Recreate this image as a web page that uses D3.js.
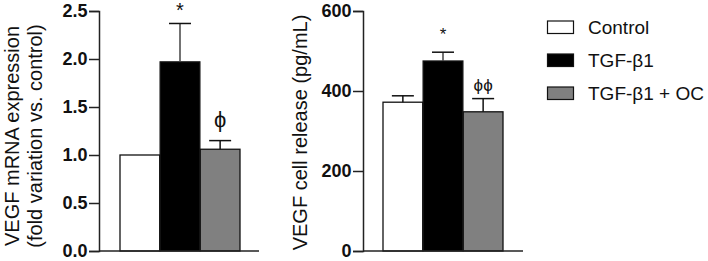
<!DOCTYPE html>
<html><head><meta charset="utf-8">
<script src="https://cdn.jsdelivr.net/npm/d3@7"></script>
<style>body{margin:0;background:#fff}svg{display:block}text{font-family:Arial,"Liberation Sans",sans-serif}</style>
</head><body><svg id="c" width="708" height="261"></svg>
<script>
const groups = ["Control", "TGF-β1", "TGF-β1 + OC"];
const colors = ["#ffffff", "#000000", "#808080"];
const mrnaValues = [1.0, 1.97, 1.06];
const mrnaErrors = [0, 0.40, 0.09];
const mrnaMarks = ["", "*", "ϕ"];
const mrnaTicks = [0, 0.5, 1.0, 1.5, 2.0, 2.5];
const releaseValues = [372, 475, 348];
const releaseErrors = [16, 22, 33];
const releaseMarks = ["", "*", "ϕϕ"];
const releaseTicks = [0, 200, 400, 600];

const svg = d3.select("#c");

function panel(o) {
  const g = svg.append("g");
  const y = d3.scaleLinear().domain(o.domain).range([251, 11]);
  const x = d3.scaleBand().domain(groups).range([o.x0, o.x1]).paddingInner(0.01).paddingOuter(0);
  const ax = g.append("g").attr("transform", `translate(${o.axisX},0)`)
    .call(d3.axisLeft(y).tickValues(o.ticks).tickFormat(o.fmt).tickSize(10).tickPadding(1.5));
  ax.select(".domain").attr("stroke", "#222").attr("stroke-width", 1.5);
  ax.selectAll(".tick line").attr("stroke", "#222").attr("stroke-width", 1.5);
  ax.selectAll(".tick text").attr("font-size", 18).attr("font-weight", "bold").attr("fill", "#111")
    .attr("font-family", "Arial, 'Liberation Sans', sans-serif");
  g.selectAll("rect.bar").data(groups).enter().append("rect")
    .attr("x", d => x(d)).attr("width", x.bandwidth())
    .attr("y", (d, i) => y(o.values[i])).attr("height", (d, i) => y(0) - y(o.values[i]))
    .attr("fill", (d, i) => colors[i]).attr("stroke", "#111").attr("stroke-width", 1.3);
  groups.forEach((d, i) => {
    if (!o.errors[i]) return;
    const cx = x(d) + x.bandwidth() / 2;
    const top = y(o.values[i] + o.errors[i]);
    g.append("line").attr("x1", cx).attr("x2", cx).attr("y1", y(o.values[i])).attr("y2", top)
      .attr("stroke", i === 1 ? "#444" : "#111").attr("stroke-width", 1.5);
    g.append("line").attr("x1", cx - 11).attr("x2", cx + 11).attr("y1", top).attr("y2", top)
      .attr("stroke", "#111").attr("stroke-width", 1.5);
    if (o.marks[i]) {
      g.append("text").attr("x", cx).attr("y", top - o.markGap[i]).attr("text-anchor", "middle")
        .attr("font-size", o.markSize[i]).attr("fill", "#111").text(o.marks[i]);
    }
  });
  g.append("line").attr("x1", o.axisX).attr("x2", o.xEnd).attr("y1", y(0)).attr("y2", y(0))
    .attr("stroke", "#222").attr("stroke-width", 1.5);
  o.label.forEach((t, k) => {
    g.append("text").attr("transform", `translate(${o.labelX[k]},${o.labelY}) rotate(-90)`)
      .attr("text-anchor", "middle").attr("font-size", 20).attr("fill", "#111").text(t);
  });
}

panel({domain: [0, 2.5], ticks: mrnaTicks, fmt: d3.format(".1f"), axisX: 99, x0: 120, x1: 240, xEnd: 259,
  values: mrnaValues, errors: mrnaErrors, marks: mrnaMarks, markGap: [0, 6, 14], markSize: [0, 20, 22],
  label: ["VEGF mRNA expression", "(fold variation vs. control)"], labelX: [18.5, 41.5], labelY: 136});
panel({domain: [0, 600], ticks: releaseTicks, fmt: d3.format("d"), axisX: 363, x0: 383, x1: 503, xEnd: 523,
  values: releaseValues, errors: releaseErrors, marks: releaseMarks, markGap: [0, 12, 8], markSize: [0, 17, 17],
  label: ["VEGF cell release (pg/mL)"], labelX: [306.5], labelY: 132.5});

const lg = svg.append("g");
groups.forEach((d, i) => {
  const yy = 21 + i * 33;
  lg.append("rect").attr("x", 547.5).attr("y", yy).attr("width", 26).attr("height", 12.5)
    .attr("fill", colors[i]).attr("stroke", "#111").attr("stroke-width", 1.2);
  lg.append("text").attr("x", 588).attr("y", yy + 13).attr("font-size", 19).attr("fill", "#111").text(d);
});
</script></body></html>
